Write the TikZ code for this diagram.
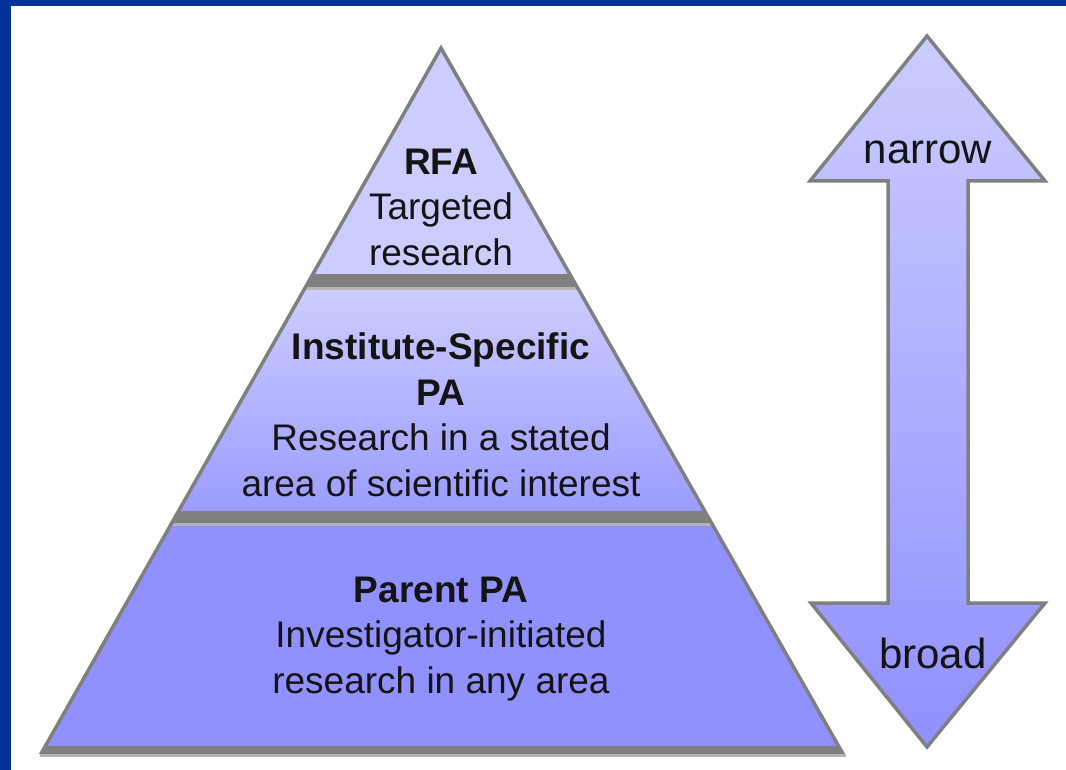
\documentclass[tikz,border=0pt]{standalone}
\usepackage{fontspec}
\setmainfont{Liberation Sans}
\definecolor{frameblue}{HTML}{003399}
\definecolor{lav}{HTML}{CCCCFF}
\definecolor{midlav}{HTML}{9C9CFF}
\definecolor{deeplav}{HTML}{9090FF}
\definecolor{edgegray}{HTML}{7F7F7F}
\definecolor{shadegray}{HTML}{B4B4B4}
\definecolor{ink}{HTML}{141414}
\tikzset{
  outline/.style={draw=edgegray, line width=3.5pt, line join=miter},
  band/.style={fill=edgegray},
  pyrtext/.style={align=center, inner sep=0pt, text=ink, font=\fontsize{37}{45.5}\selectfont},
  arrowtext/.style={inner sep=0pt, text=ink, font=\fontsize{42}{48}\selectfont}
}
\begin{document}
\begin{tikzpicture}[x=1pt,y=-1pt]
\useasboundingbox (0,0) rectangle (1066,770);
\fill[white] (0,0) rectangle (1066,770);
% frame (top and left)
\fill[frameblue] (0,0) rectangle (1066,6);
\fill[frameblue] (0,0) rectangle (11,770);
% pyramid
\coordinate (apex) at (441,48);
\coordinate (bl) at (42,752);
\coordinate (br) at (842,752);
\begin{scope}
  \clip (apex) -- (br) -- (bl) -- cycle;
  \fill[lav] (0,40) rectangle (1066,274);
  \shade[top color=lav, bottom color=midlav] (0,289) rectangle (1066,511);
  \fill[deeplav] (0,525) rectangle (1066,760);
  \fill[band] (0,274) rectangle (1066,287);
  \fill[shadegray] (0,287) rectangle (1066,290);
  \fill[band] (0,511) rectangle (1066,523);
  \fill[shadegray] (0,523) rectangle (1066,526);
  \fill[band] (0,746) rectangle (1066,760);
\end{scope}
\draw[outline] (apex) -- (br) -- (bl) -- cycle;
\fill[shadegray] (40,753.5) rectangle (846,757);
% texts
\node[pyrtext] (rfa) at (441,207) {\textbf{RFA}\\Targeted\\research};
\node[pyrtext] (isp) at (441,415) {\textbf{Institute-Specific}\\\textbf{PA}\\Research in a stated\\area of scientific interest};
\node[pyrtext] (ppa) at (441,639) {\textbf{Parent PA}\\Investigator-initiated\\research in any area};
% double arrow
\shade[top color=lav, bottom color=deeplav, draw=edgegray, line width=3.5pt, line join=miter]
  (927,36) -- (1045,181) -- (968,181) -- (968,603) -- (1045,603) -- (927,747)
  -- (811,603) -- (888,603) -- (888,181) -- (810,181) -- cycle;
\node[arrowtext] (narrow) at (928,152) {narrow};
\node[arrowtext] (broad) at (933,653) {broad};
\end{tikzpicture}
\end{document}
